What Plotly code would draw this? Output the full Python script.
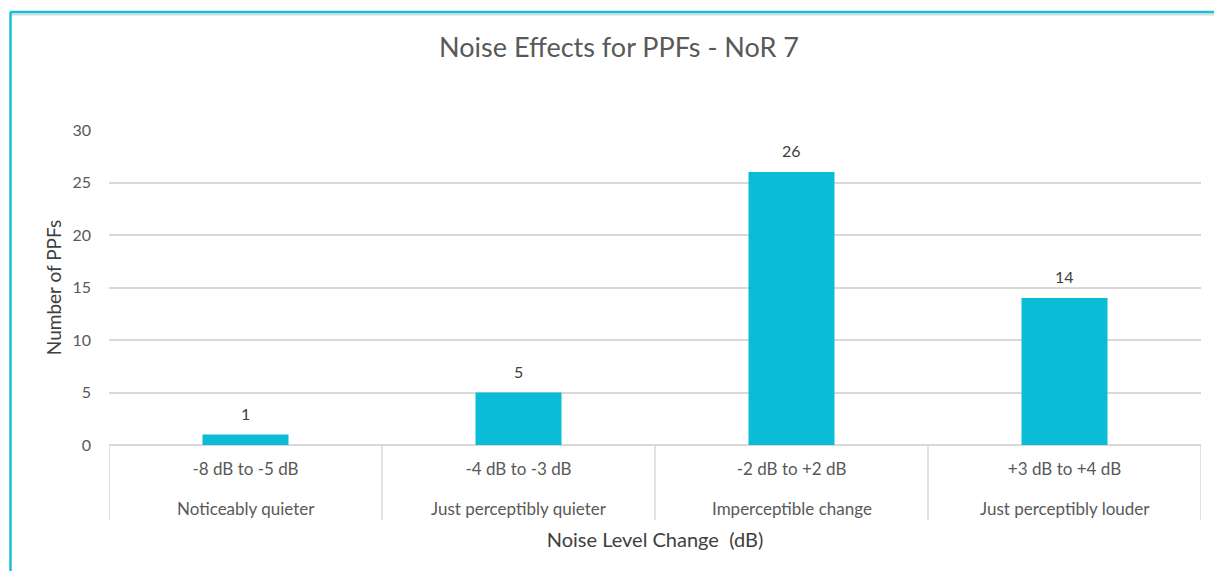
import plotly.graph_objects as go

ranges = ["-8 dB to -5 dB", "-4 dB to -3 dB", "-2 dB to +2 dB", "+3 dB to +4 dB"]
descriptions = ["Noticeably quieter", "Just perceptibly quieter", "Imperceptible change", "Just perceptibly louder"]
ppf_counts = [1, 5, 26, 14]
y_ticks = [0, 5, 10, 15, 20, 25, 30]

bar_color = "#0BBCD6"
text_color = "#595959"
grid_color = "#D9D9D9"
font_family = "Lato, 'Open Sans', sans-serif"

W, H = 1214, 571
L, R, T, B = 109, 13, 130, 126
pw, ph = W - L - R, H - T - B


def px_x(px):
    return (px - L) / pw


def px_y(py):
    return (H - B - py) / ph


fig = go.Figure()
fig.add_trace(go.Bar(
    x=list(range(len(ranges))), y=ppf_counts,
    marker=dict(color=bar_color, line=dict(width=0)),
    width=0.315, hoverinfo="y",
))

# data labels above the bars
for i, v in enumerate(ppf_counts):
    fig.add_annotation(x=i, y=v, xref="x", yref="y", text=str(v), showarrow=False,
                       yanchor="bottom", yshift=10,
                       font=dict(size=16, color="#404040", family=font_family))

# second row of category labels
for i, d in enumerate(descriptions):
    fig.add_annotation(x=i, y=px_y(508), xref="x", yref="paper", text=d, showarrow=False,
                       yanchor="middle", xanchor="center",
                       font=dict(size=17, color=text_color, family=font_family))

# category separators
for i in range(len(ranges) + 1):
    fig.add_shape(type="line", xref="x", yref="paper", x0=i - 0.5, x1=i - 0.5,
                  y0=0, y1=px_y(520), line=dict(color=grid_color, width=1.5))

# chart border (teal top and left edge, gray inner line)
fig.add_shape(type="line", xref="paper", yref="paper", x0=px_x(10), x1=px_x(1214),
              y0=px_y(14.5), y1=px_y(14.5), line=dict(color="#D9D9D9", width=2))
fig.add_shape(type="line", xref="paper", yref="paper", x0=px_x(10), x1=px_x(1214),
              y0=px_y(12), y1=px_y(12), line=dict(color="#17BFD9", width=2.5))
fig.add_shape(type="line", xref="paper", yref="paper", x0=px_x(10.5), x1=px_x(10.5),
              y0=px_y(12), y1=px_y(571), line=dict(color="#17BFD9", width=2.5))

fig.update_layout(
    width=W, height=H,
    margin=dict(l=L, r=R, t=T, b=B),
    paper_bgcolor="white", plot_bgcolor="white",
    title=dict(text="Noise Effects for PPFs - NoR 7", x=619 / W, xanchor="center",
               y=1 - 48 / H, yanchor="middle",
               font=dict(size=27, color=text_color, family=font_family)),
    showlegend=False,
    font=dict(family=font_family, color=text_color),
    xaxis=dict(
        tickmode="array", tickvals=list(range(len(ranges))), ticktext=ranges,
        range=[-0.5, len(ranges) - 0.5], showgrid=False, zeroline=False,
        showline=False, ticks="", ticklabelstandoff=12,
        tickfont=dict(size=17, color=text_color),
        title=dict(text="Noise Level Change  (dB)", standoff=54,
                   font=dict(size=20, color="#404040")),
    ),
    yaxis=dict(
        range=[0, 30], tickvals=y_ticks, showgrid=True, gridcolor=grid_color, gridwidth=1.5,
        zeroline=True, zerolinecolor=grid_color, zerolinewidth=1.5, showline=False,
        ticks="", ticklabelstandoff=17,
        tickfont=dict(size=16, color=text_color),
        title=dict(text="Number of PPFs", standoff=5,
                   font=dict(size=19, color="#404040")),
    ),
)

fig.write_html("out.html", config={"displayModeBar": False},
               post_script="document.body.style.margin='0';")
